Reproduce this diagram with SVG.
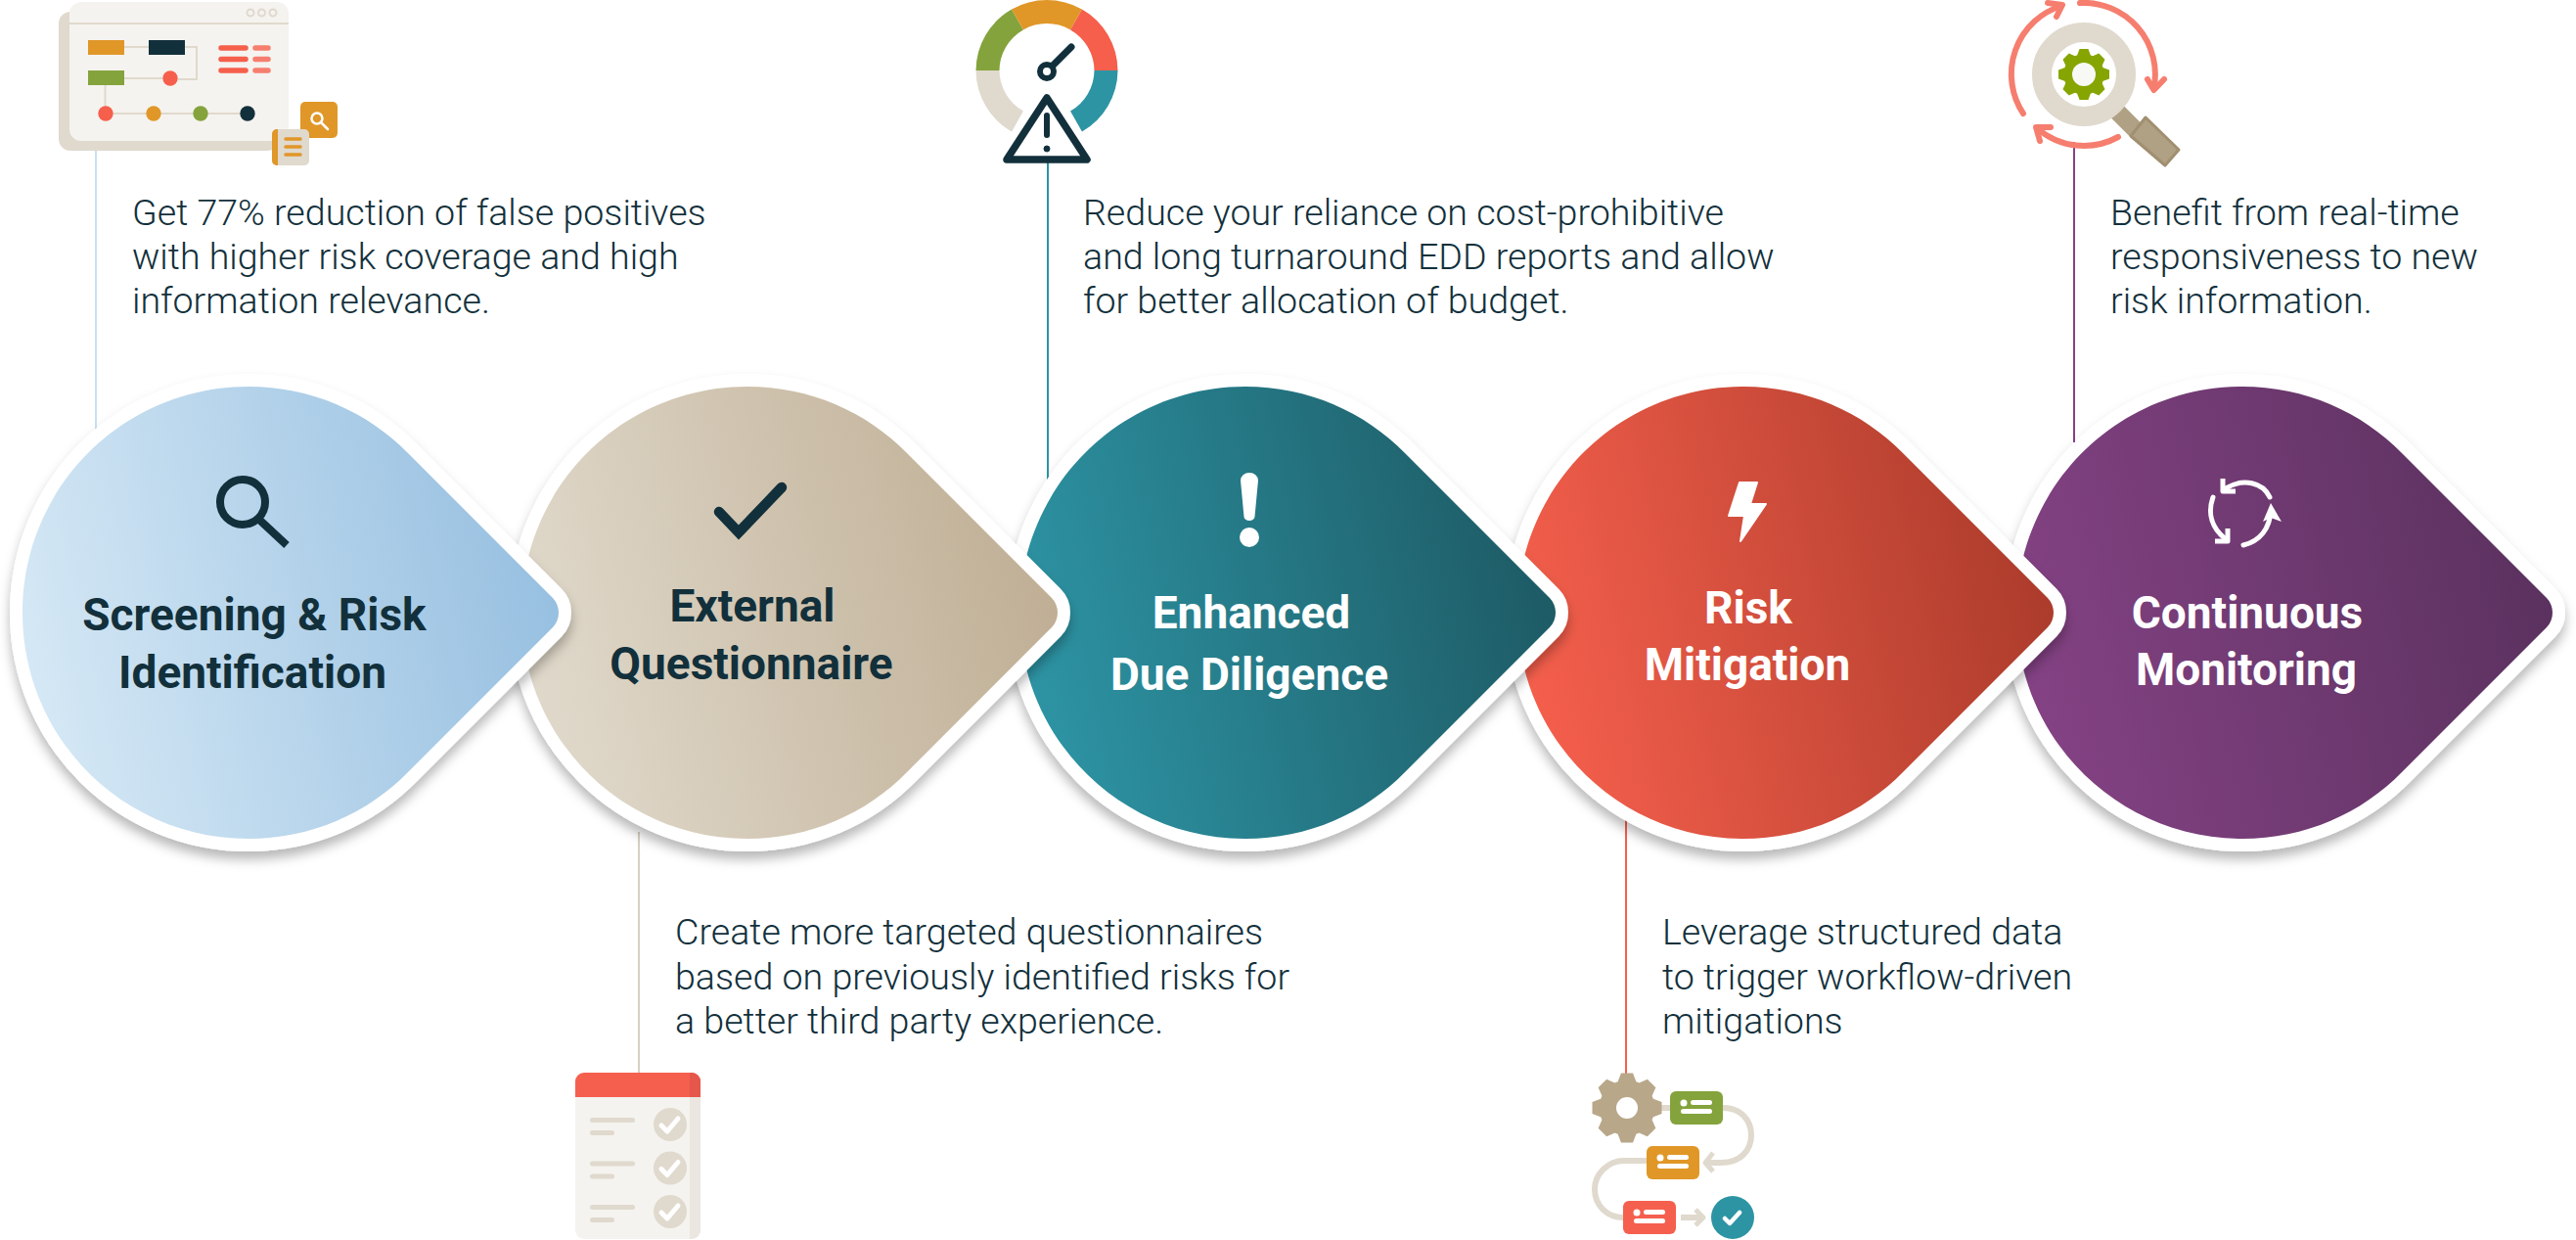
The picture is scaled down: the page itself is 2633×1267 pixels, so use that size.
<svg xmlns="http://www.w3.org/2000/svg" width="2633" height="1267" viewBox="0 0 2633 1267">
<style>
.body{font-family:"Roboto","Liberation Sans",sans-serif;font-weight:300;font-size:37.600px;fill:#12303b}
.title{font-family:"Roboto","Liberation Sans",sans-serif;font-weight:700;font-size:46px;text-anchor:middle}
.dark{fill:#12303b}.light{fill:#fff}
.lead{fill:none;stroke-width:2}
.bg{fill:#fff;stroke:#fff;stroke-width:26;stroke-linejoin:round;filter:url(#sh)}
.ic-w{fill:none;stroke:#fff;stroke-linecap:round;stroke-linejoin:round}
.sal{fill:none;stroke:#f67e6f;stroke-width:6;stroke-linecap:round;stroke-linejoin:round}
.bar{stroke-linecap:round;fill:none}
</style>
<defs>
<filter id="sh" x="-10%" y="-10%" width="120%" height="125%"><feDropShadow dx="0" dy="8" stdDeviation="6" flood-color="#000" flood-opacity=".28"/></filter>
<path id="drop" d="M0 -231C64 -231 122 -205 163 -163L311 -15C319 -7 319 7 311 15L163 163C122 205 64 231 0 231C-128 231 -231 128 -231 0C-231 -128 -128 -231 0 -231Z"/>
<linearGradient id="g1" x1="0" y1=".6" x2="1" y2=".4"><stop offset="0" stop-color="#d5e8f5"/><stop offset="1" stop-color="#96bfe0"/></linearGradient>
<linearGradient id="g2" x1="0" y1=".6" x2="1" y2=".4"><stop offset="0" stop-color="#e0d9cb"/><stop offset="1" stop-color="#bfae94"/></linearGradient>
<linearGradient id="g3" x1="0" y1=".6" x2="1" y2=".4"><stop offset="0" stop-color="#2d94a4"/><stop offset="1" stop-color="#1d5a64"/></linearGradient>
<linearGradient id="g4" x1="0" y1=".6" x2="1" y2=".4"><stop offset="0" stop-color="#f55f4c"/><stop offset="1" stop-color="#ab3b2b"/></linearGradient>
<linearGradient id="g5" x1="0" y1=".6" x2="1" y2=".4"><stop offset="0" stop-color="#844284"/><stop offset="1" stop-color="#5a315e"/></linearGradient>
<path id="tooth" d="M-.27 -.74L-.17 -1H.17L.27 -.74Z"/>
<g id="gear"><circle r=".8"/><use href="#tooth"/><use href="#tooth" transform="rotate(45)"/><use href="#tooth" transform="rotate(90)"/><use href="#tooth" transform="rotate(135)"/><use href="#tooth" transform="rotate(180)"/><use href="#tooth" transform="rotate(225)"/><use href="#tooth" transform="rotate(270)"/><use href="#tooth" transform="rotate(315)"/></g>
<g id="rowicon"><circle cx="-13" cy="-5" r="3.500" fill="#fff"/><rect x="-6" y="-8" width="22" height="5" rx="2.500" fill="#fff"/><rect x="-16" y="1" width="32" height="5" rx="2.500" fill="#fff"/></g>
<g id="clist"><rect x="603" y="0" width="46" height="5" rx="2.500" fill="#e0d9cd"/><rect x="603" y="13" width="25" height="5" rx="2.500" fill="#e0d9cd"/><circle cx="685" cy="7" r="17" fill="#e0d9cd"/><path d="M676 8l6 6 11-13" fill="none" stroke="#fff" stroke-width="5" stroke-linecap="round" stroke-linejoin="round"/></g>
</defs>

<g id="connectors">
<line class="lead" x1="98" y1="154" x2="98" y2="440" stroke="#c9e0f0"/>
<line class="lead" x1="653" y1="850" x2="653" y2="1097" stroke="#d8d0c2"/>
<line class="lead" x1="1071" y1="165" x2="1071" y2="490" stroke="#2d94a4"/>
<line class="lead" x1="1662" y1="838" x2="1662" y2="1097" stroke="#f55f4c"/>
<line class="lead" x1="2120" y1="145" x2="2120" y2="452" stroke="#844284"/>
</g>

<g id="node5"><use href="#drop" class="bg" transform="translate(2292,626)"/><use href="#drop" fill="url(#g5)" transform="translate(2292,626)"/>
<g class="ic-w" stroke-width="5"><path d="M2275 499C2293 488 2313 493 2320 508"/><path d="M2272 489V502H2285" stroke-linecap="butt"/><path d="M2262 508C2256 525 2261 540 2275 551"/><path d="M2264 553H2277V540" stroke-linecap="butt"/><path d="M2293 557C2310 553 2320 540 2321 522"/></g><path d="M2321 514L2332 533 2321 529 2313 533Z" fill="#fff"/>
<text class="title light" x="2297" y="642">Continuous</text><text class="title light" x="2296" y="700">Monitoring</text></g>

<g id="node4"><use href="#drop" class="bg" transform="translate(1782,626)"/><use href="#drop" fill="url(#g4)" transform="translate(1782,626)"/>
<path d="M1778 493h18l-7 22h16l-26 38 4-26h-16z" fill="#fff" stroke="#fff" stroke-width="2" stroke-linejoin="round"/>
<text class="title light" x="1787" y="637">Risk</text><text class="title light" x="1786" y="695">Mitigation</text></g>

<g id="node3"><use href="#drop" class="bg" transform="translate(1273,626)"/><use href="#drop" fill="url(#g3)" transform="translate(1273,626)"/>
<path d="M1268 491a9 8 0 0 1 18 0l-3.500 37a5.500 4 0 0 1-11 0z" fill="#fff"/><ellipse cx="1277" cy="549" rx="10" ry="10" fill="#fff"/>
<text class="title light" x="1279" y="642">Enhanced</text><text class="title light" x="1277" y="705">Due Diligence</text></g>

<g id="node2"><use href="#drop" class="bg" transform="translate(764,626)"/><use href="#drop" fill="url(#g2)" transform="translate(764,626)"/>
<path d="M735 523L755 544 799 498" fill="none" stroke="#12303b" stroke-width="10.500" stroke-linecap="round"/>
<text class="title dark" x="769" y="635">External</text><text class="title dark" x="768" y="694">Questionnaire</text></g>

<g id="node1"><use href="#drop" class="bg" transform="translate(254,626)"/><use href="#drop" fill="url(#g1)" transform="translate(254,626)"/>
<circle cx="248" cy="513" r="23" fill="none" stroke="#12303b" stroke-width="8"/><path d="M264 530l29 27" fill="none" stroke="#12303b" stroke-width="8"/>
<text class="title dark" x="260" y="644">Screening &amp; Risk</text><text class="title dark" x="258" y="703">Identification</text></g>

<g id="text1"><text class="body" x="135" y="230">Get 77% reduction of false positives</text><text class="body" x="135" y="275">with higher risk coverage and high</text><text class="body" x="135" y="320">information relevance.</text></g>
<g id="text2"><text class="body" x="690" y="965">Create more targeted questionnaires</text><text class="body" x="690" y="1011">based on previously identified risks for</text><text class="body" x="690" y="1056">a better third party experience.</text></g>
<g id="text3"><text class="body" x="1107" y="230">Reduce your reliance on cost-prohibitive</text><text class="body" x="1107" y="275">and long turnaround EDD reports and allow</text><text class="body" x="1107" y="320">for better allocation of budget.</text></g>
<g id="text4"><text class="body" x="1699" y="965">Leverage structured data</text><text class="body" x="1699" y="1011">to trigger workflow-driven</text><text class="body" x="1699" y="1056">mitigations</text></g>
<g id="text5"><text class="body" x="2157" y="230">Benefit from real-time</text><text class="body" x="2157" y="275">responsiveness to new</text><text class="body" x="2157" y="320">risk information.</text></g>

<g id="icon1">
<rect x="60" y="12" width="225" height="142" rx="12" fill="#e0d9cd"/>
<rect x="71" y="2" width="224" height="142" rx="12" fill="#f5f3ef"/>
<path d="M71 24H295" stroke="#e0d9cd" stroke-width="2"/>
<g fill="none" stroke="#e0d9cd" stroke-width="2"><circle cx="256" cy="13" r="3.500"/><circle cx="267.500" cy="13" r="3.500"/><circle cx="279" cy="13" r="3.500"/>
<path d="M127 48H152M189 48H201V81H182M127 80H166M107.500 87V116H253"/></g>
<rect x="90" y="41" width="37" height="15" fill="#e09728"/><rect x="152" y="41" width="37" height="15" fill="#12303b"/><rect x="90" y="72" width="37" height="15" fill="#84a33c"/>
<circle cx="174" cy="80" r="7.700" fill="#f55f4c"/><circle cx="108" cy="116" r="7.700" fill="#f55f4c"/><circle cx="157" cy="116" r="7.700" fill="#e09728"/><circle cx="205" cy="116" r="7.700" fill="#84a33c"/><circle cx="253" cy="116" r="7.700" fill="#12303b"/>
<g class="bar" stroke-width="5.500"><path d="M226 49h25M226 60.500h25M226 72h25" stroke="#f55f4c"/><path d="M261 49h13M261 60.500h13M261 72h13" stroke="#f67e6f"/></g>
<rect x="307" y="104" width="38" height="37" rx="5" fill="#e09728"/><circle cx="324" cy="121" r="5.500" fill="none" stroke="#fff" stroke-width="2.500"/><path d="M328 125l7 7" stroke="#fff" stroke-width="2.500" stroke-linecap="round"/>
<rect x="278" y="132" width="38" height="37" rx="5" fill="#e0d9cd"/><path d="M284 132h-1a5 5 0 0 0-5 5v27a5 5 0 0 0 5 5h1z" fill="#e09728"/><path class="bar" d="M292 142h15M292 150h15M292 158h15" stroke="#e09728" stroke-width="3.500"/>
</g>

<g id="icon2" fill="none" stroke-width="24">
<path d="M1009.500 72A60.500 60.500 0 0 1 1040 20" stroke="#84a33c"/>
<path d="M1040 20A60.500 60.500 0 0 1 1100 20" stroke="#e09728"/>
<path d="M1100 20A60.500 60.500 0 0 1 1130.500 72" stroke="#f55f4c"/>
<path d="M1130.500 72A60.500 60.500 0 0 1 1100 124" stroke="#2d94a4"/>
<path d="M1040 124A60.500 60.500 0 0 1 1009.500 72" stroke="#e0d9cd"/>
<circle cx="1070" cy="73" r="7" stroke="#12303b" stroke-width="6" fill="#fff"/>
<path d="M1076 67L1095 48" stroke="#12303b" stroke-width="7" stroke-linecap="round"/>
<path d="M1070 100L1111 163H1029Z" fill="#fff" stroke="#12303b" stroke-width="7.500" stroke-linejoin="round"/>
<path d="M1070 118V138" stroke="#12303b" stroke-width="6" stroke-linecap="round"/><circle cx="1070" cy="152" r="3" fill="#12303b" stroke="#12303b" stroke-width="1"/>
</g>

<g id="icon3">
<path d="M2160 110L2187 137" stroke="#b0a084" stroke-width="18"/>
<path d="M2193 120L2227 153 2213 169 2178 139Z" fill="#b0a084" stroke="#a08f70" stroke-width="3" stroke-linejoin="round"/>
<circle cx="2130" cy="76" r="43" fill="#fff" stroke="#e0d9cd" stroke-width="20"/>
<use href="#gear" fill="#86a500" transform="translate(2130,76) scale(26)"/><circle cx="2130" cy="76" r="12" fill="#f8f8f5"/>
<path class="sal" d="M2126 3A73 73 0 0 1 2201.500 90"/><path class="sal" d="M2195 81L2201.500 92 2212 81"/>
<path class="sal" d="M2165 140A73 73 0 0 1 2082 131"/><path class="sal" d="M2096 130L2081 130 2085 144"/>
<path class="sal" d="M2068 116A73 73 0 0 1 2107 6"/><path class="sal" d="M2093 3L2108 5 2102 17"/>
</g>

<g id="icon4">
<rect x="588" y="1096" width="128" height="170" rx="9" fill="#f5f3ef"/>
<path d="M705 1121H716V1257a9 9 0 0 1-9 9H705Z" fill="#ebe6df"/>
<path d="M588 1121V1105a9 9 0 0 1 9-9H707a9 9 0 0 1 9 9V1121Z" fill="#f55f4e"/>
<path d="M705 1096H707a9 9 0 0 1 9 9V1121H705Z" fill="#e4574a"/>
<use href="#clist" y="1142"/><use href="#clist" y="1186.500"/><use href="#clist" y="1231"/>
</g>

<g id="icon5">
<g fill="none" stroke="#e0d9cd" stroke-width="6"><path d="M1696 1132H1707M1761 1132C1780 1132 1790 1145 1790 1160C1790 1176 1778 1188 1760 1188H1746"/><path d="M1683 1186H1660C1643 1186 1630 1200 1630 1215C1630 1232 1643 1244 1659 1244"/><path d="M1718 1244H1738"/><path d="M1751 1178L1743 1188 1751 1197" stroke-linejoin="round" stroke-width="5"/><path d="M1733 1236L1741 1244 1733 1252" stroke-linejoin="round" stroke-width="5"/></g>
<use href="#gear" fill="#b9a78a" transform="translate(1663,1132) scale(35.500)"/><circle cx="1663" cy="1132" r="11" fill="#fff"/>
<rect x="1707" y="1115" width="54" height="34" rx="6" fill="#84a33c"/><use href="#rowicon" transform="translate(1734,1132)"/>
<rect x="1683" y="1171" width="54" height="34" rx="6" fill="#e09728"/><use href="#rowicon" transform="translate(1710,1188)"/>
<rect x="1659" y="1227" width="54" height="34" rx="6" fill="#f55f4e"/><use href="#rowicon" transform="translate(1686,1244)"/>
<circle cx="1771" cy="1244" r="22" fill="#2d94a4"/><path d="M1763 1245l5 5 10-11" fill="none" stroke="#fff" stroke-width="4.500" stroke-linecap="round" stroke-linejoin="round"/>
</g>
</svg>
